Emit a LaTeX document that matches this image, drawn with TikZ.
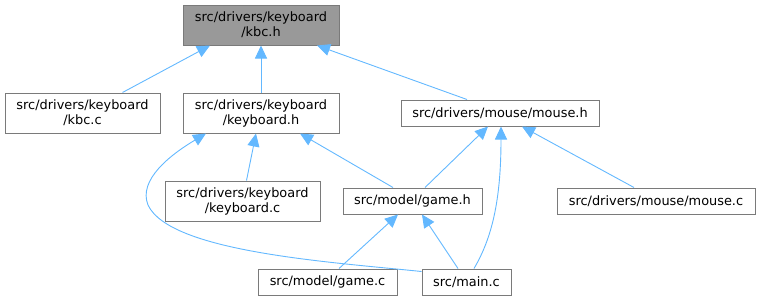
\documentclass[tikz,border=0pt]{standalone}
\usepackage{fontspec}
\setmainfont{DejaVu Sans}
\usetikzlibrary{arrows.meta}
\definecolor{edgeblue}{HTML}{63B8FF}
\definecolor{boxline}{HTML}{7A7A7A}
\definecolor{curfill}{HTML}{999999}
\tikzset{
  file/.style={draw=boxline, line width=1pt, fill=white, inner sep=0pt,
    align=center, font=\fontsize{12.9}{15}\selectfont, text=black},
  current/.style={file, fill=curfill},
  dep/.style={draw=edgeblue, line width=0.9pt,
    -{Triangle[length=13pt,width=12pt]}},
}
\begin{document}
\begin{tikzpicture}[x=1pt, y=-1pt]
\useasboundingbox (0,0) rectangle (760,300);

% headers and sources
\node[current, minimum width=156pt, minimum height=40pt] (kbch) at (261,25)
  {src/drivers/keyboard\\/kbc.h};
\node[file, minimum width=155pt, minimum height=40pt] (kbcc) at (82.5,113)
  {src/drivers/keyboard\\/kbc.c};
\node[file, minimum width=156pt, minimum height=40pt] (kbdh) at (261,113)
  {src/drivers/keyboard\\/keyboard.h};
\node[file, minimum width=198pt, minimum height=26pt] (mouseh) at (500,113)
  {src/drivers/mouse/mouse.h};
\node[file, minimum width=155pt, minimum height=40pt] (kbdc) at (242.5,201)
  {src/drivers/keyboard\\/keyboard.c};
\node[file, minimum width=139pt, minimum height=26pt] (gameh) at (412.5,201)
  {src/model/game.h};
\node[file, minimum width=198pt, minimum height=26pt] (mousec) at (656,201)
  {src/drivers/mouse/mouse.c};
\node[file, minimum width=139pt, minimum height=26pt] (gamec) at (327.5,282)
  {src/model/game.c};
\node[file, minimum width=89pt, minimum height=26pt] (mainc) at (466.5,282)
  {src/main.c};

% include relations
\draw[dep] ([xshift=40pt]kbcc.north) -- ([xshift=-51pt]kbch.south);
\draw[dep] (kbdh.north) -- (kbch.south);
\draw[dep] ([xshift=-33pt]mouseh.north) -- ([xshift=56pt]kbch.south);
\draw[dep] ([xshift=4pt]kbdc.north) -- ([xshift=-5pt]kbdh.south);
\draw[dep] ([xshift=-19.5pt]gameh.north) -- ([xshift=39pt]kbdh.south);
\draw[dep] ([yshift=-3pt]mainc.north west)
  .. controls (330,262) and (170,252) .. (148,205)
  .. controls (138,180) and (170,155) .. ([xshift=-55pt]kbdh.south);
\draw[dep] ([xshift=12.5pt]gameh.north) -- ([xshift=-12pt]mouseh.south);
\draw[dep] ([xshift=7.5pt]mainc.north)
  .. controls (492,238) and (501,200) .. ([xshift=1pt]mouseh.south);
\draw[dep] ([xshift=-22pt]mousec.north) -- ([xshift=22pt]mouseh.south);
\draw[dep] ([xshift=11.5pt]gamec.north) -- ([xshift=-14.5pt]gameh.south);
\draw[dep] ([xshift=-8.5pt]mainc.north) -- ([xshift=9.5pt]gameh.south);
\end{tikzpicture}
\end{document}
